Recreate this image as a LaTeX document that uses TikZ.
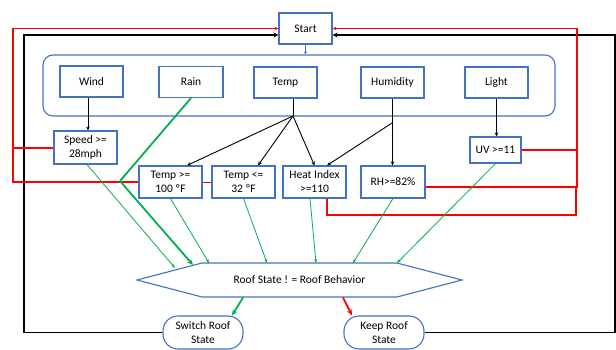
\documentclass[tikz,border=0pt]{standalone}
\usepackage{fontspec}
\setmainfont{Carlito}
\usetikzlibrary{arrows.meta,shapes.symbols,calc}
\definecolor{boxblue}{HTML}{4472C4}
\definecolor{okgreen}{HTML}{00B050}
\definecolor{alarm}{HTML}{FF0000}
\begin{document}
\begin{tikzpicture}[x=1pt,y=-1pt,
  font=\fontsize{11.5}{14}\selectfont,
  bx/.style={draw=boxblue,line width=1.1pt,fill=white,inner sep=1pt,align=center,minimum width=63pt,minimum height=31pt},
  pill/.style={bx,rounded corners=15pt,minimum width=80pt,minimum height=33pt},
  blk/.style={draw=black,line width=0.9pt,-{Stealth[length=4pt,width=3.5pt]}},
  loopblk/.style={draw=black,line width=1.8pt},
  redl/.style={draw=alarm,line width=1.3pt},
  grn/.style={draw=okgreen,line width=0.8pt,-{Stealth[length=4pt,width=3pt]}},
  grnthick/.style={draw=okgreen,line width=1.8pt,-{Stealth[length=6pt,width=5pt]}},
  redthick/.style={draw=alarm,line width=1.8pt,-{Stealth[length=6pt,width=5pt]}}
]
\useasboundingbox[fill=white] (0,0) rectangle (616,350);

% container
\node[draw=boxblue,line width=1.1pt,rounded corners=10pt,minimum width=512pt,minimum height=61pt] (sensors) at (299,85.5) {};

\node[bx,minimum width=53pt] (start) at (305.5,28.5) {Start};
\node[bx] (wind) at (91.5,81.5) {Wind};
\node[bx,minimum width=64pt] (rain) at (191,82) {Rain};
\node[bx] (temp) at (285.5,82.5) {Temp};
\node[bx] (hum) at (392.5,82.5) {Humidity};
\node[bx] (light) at (496.5,82.5) {Light};

\node[bx,minimum height=33pt] (speed) at (85.5,147.5) {Speed >=\\28mph};
\node[bx,minimum height=32pt] (t100) at (170.5,182) {Temp >=\\100 ºF};
\node[bx,minimum height=32pt] (t32) at (243.5,182) {Temp <=\\32 ºF};
\node[bx,minimum height=32pt] (hi) at (314.5,182) {Heat Index\\>=110};
\node[bx,minimum height=32pt,minimum width=64pt] (rh) at (393,182) {RH>=82\%};
\node[bx,minimum width=51pt,minimum height=26pt] (uv) at (495.5,150) {UV >=11};

\node[signal,signal to=west and east,signal pointer angle=29.3,draw=boxblue,line width=1.1pt,fill=white,minimum width=325pt,minimum height=34pt,inner sep=0pt] (hex) at (299.5,280) {Roof State ! = Roof Behavior};

\node[pill] (switch) at (203,332.5) {Switch Roof\\State};
\node[pill] (keep) at (384,332.5) {Keep Roof\\State};

% junctions and targets
\coordinate (tj) at (293,116);
\coordinate (hj) at (392,123);
\coordinate (rbend) at (120,181);
\coordinate (hsp) at (175,268);
\coordinate (hrain) at (193,265);
\coordinate (h100) at (209,263);
\coordinate (h32) at (267,263);
\coordinate (hhi) at (316,263);
\coordinate (hrh) at (353,263);
\coordinate (huv) at (397,263);
\coordinate (lx) at (13,0);
\coordinate (rx) at (577,0);
\coordinate (rx2) at (576,0);
\coordinate (bl) at (24,0);
\coordinate (br) at (615,0);

% blue start arrow
\draw[draw=boxblue,line width=0.8pt,-{Stealth[length=3pt,width=3pt]}] (start.south) -- (start.south |- sensors.north);

% black sensor arrows
\draw[blk] ([xshift=-3.5pt]wind.south) -- ([xshift=2.5pt]speed.north);
\draw[draw=black,line width=0.9pt] (temp.south -| tj) -- (tj);
\draw[blk] (tj) -- ([xshift=16.5pt]t100.north);
\draw[blk] (tj) -- ([xshift=14.5pt]t32.north);
\draw[blk] (tj) -- (hi.north);
\draw[blk] (hum.south) -- (rh.north -| hum.south);
\draw[blk] (hj) -- ([xshift=12.5pt]hi.north);
\draw[blk] (light.south) -- (uv.north -| light.south);

% black loops
\draw[loopblk,-{Stealth[length=5pt,width=5pt]}] (switch.west) -| (bl |- 0,35) -- ([yshift=-6.5pt]start.west);
\draw[loopblk,-{Stealth[length=5pt,width=5pt]}] (keep.east) -| (br |- 0,35) -- ([yshift=-6.5pt]start.east);

% red loops
\draw[redl,-{Stealth[length=4pt,width=3.5pt]}] ([yshift=-0.5pt]speed.west) -| (lx |- start.west) -- (start.west);
\draw[draw=alarm,line width=2pt] (t100.west) -| (lx |- 0,149);
\draw[draw=alarm,line width=0.9pt] (t100.east) -- (t32.west);
\draw[redl,-{Stealth[length=4pt,width=3.5pt]}] (uv.east) -| (rx |- start.east) -- (start.east);
\draw[redl] ([yshift=-5pt]rh.east) -| (rx |- uv.east);
\draw[redl] ([xshift=12.5pt]hi.south) |- (rx2 |- 0,215) -- (rx2 |- 0,187);

% green arrows to decision
\draw[grn] ([xshift=1.5pt]speed.south) -- (hsp);
\draw[grnthick,-] (rain.south) -- (rbend);
\draw[grnthick] (rbend) -- (hrain);
\draw[grn] (t100.south) -- (h100);
\draw[grn] (t32.south) -- (h32);
\draw[grn] ([xshift=-4.5pt]hi.south) -- (hhi);
\draw[grn] (rh.south) -- (hrh);
\draw[grn] (uv.south) -- (huv);

% outcomes
\draw[grnthick] ([xshift=-56.5pt]hex.south) -- ([xshift=29pt]switch.north);
\draw[redthick] ([xshift=43.5pt]hex.south) -- ([xshift=-32pt]keep.north);
\end{tikzpicture}
\end{document}
